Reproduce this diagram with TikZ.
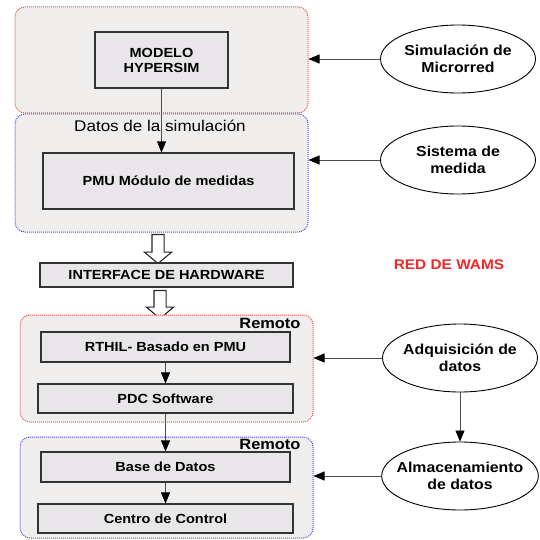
\documentclass[tikz,border=0pt]{standalone}
\usepackage{fontspec}
\setmainfont[FakeStretch=1.1]{Liberation Sans}
\usepackage{tikz}
\usetikzlibrary{shapes.geometric, shapes.arrows, arrows.meta, positioning}

\definecolor{panelgray}{RGB}{239,238,236}
\definecolor{boxgray}{RGB}{233,230,234}
\definecolor{wamsred}{RGB}{240,40,40}

\begin{document}
\begin{tikzpicture}[
    x=1pt, y=-1pt,
    panelred/.style={draw=red!70, densely dotted, line width=1pt, rounded corners=10pt, fill=panelgray, minimum width=293pt},
    panelblue/.style={draw=blue!70, densely dotted, line width=1pt, rounded corners=10pt, fill=panelgray, minimum width=293pt},
    block/.style={draw=black!80, line width=1.1pt, rectangle, fill=boxgray, font=\fontsize{13.2}{15}\selectfont\bfseries, align=center},
    role/.style={draw, line width=0.9pt, ellipse, fill=white, inner xsep=-8pt, minimum width=155pt, minimum height=68pt, font=\fontsize{14.4}{16.5}\selectfont\bfseries, align=center},
    hollow/.style={draw=black!85, line width=1.1pt, fill=white, single arrow, shape border rotate=270, inner sep=5.5pt, single arrow head extend=7.5pt, single arrow tip angle=100, minimum height=29pt},
    arrow/.style={draw=black!70, -{Triangle[length=11pt, width=9pt, color=black]}, line width=0.7pt}
]
\useasboundingbox (0,0) rectangle (539,540);

% Simulation panels
\node[panelred, minimum height=106pt] (simpanel) at (161.5, 60) {};
\node[panelblue, minimum height=118pt] (pmupanel) at (161.5, 173) {};
\node[block, minimum width=133pt, minimum height=56pt] (hypersim) at (161.5, 60) {MODELO\\HYPERSIM};
\node[font=\fontsize{15.5}{18}\selectfont] (datos) at (160, 126) {Datos de la simulación};
\node[block, minimum width=251pt, minimum height=56pt] (pmu) at (168.5, 181) {PMU Módulo de medidas};

% Hardware interface
\node[hollow] (down1) at (158, 246.5) {};
\node[block, minimum width=253pt, minimum height=24pt] (interface) at (166.5, 275) {INTERFACE DE HARDWARE};
\node[hollow, minimum height=28pt] (down2) at (160, 302) {};

% Remote panels
\node[panelred, minimum height=107pt] (acqpanel) at (166.5, 368.5) {};
\node[panelblue, minimum height=101pt] (storepanel) at (166.5, 487.5) {};
\node[anchor=east, font=\fontsize{14.9}{17}\selectfont\bfseries] (remoto1) at (304, 323) {Remoto};
\node[anchor=east, font=\fontsize{14.9}{17}\selectfont\bfseries] (remoto2) at (304, 444) {Remoto};
\node[block, minimum width=249pt, minimum height=30pt] (rthil) at (165.5, 347) {RTHIL- Basado en PMU};
\node[block, minimum width=255pt, minimum height=29pt] (pdc) at (165.5, 398.5) {PDC Software};
\node[block, minimum width=249pt, minimum height=30pt] (base) at (165.5, 467) {Base de Datos};
\node[block, minimum width=255pt, minimum height=29pt] (centro) at (165.5, 518.5) {Centro de Control};

% Functions of the network
\node[role] (simul) at (458, 59) {Simulación de\\Microrred};
\node[role] (medida) at (458, 160) {Sistema de\\medida};
\node[text=wamsred, font=\fontsize{14}{16}\selectfont\bfseries] (wams) at (449, 265) {RED DE WAMS};
\node[role] (adquis) at (460, 358) {Adquisición de\\datos};
\node[role] (almacen) at (460, 476) {Almacenamiento\\de datos};

% Data flow
\draw[arrow] (hypersim.south) -- (hypersim.south |- pmu.north);
\draw[arrow] (rthil) -- (pdc);
\draw[arrow] (pdc) -- (base);
\draw[arrow] (base) -- (centro);
\draw[arrow] (adquis) -- (almacen);

% Arrows from the functions
\draw[arrow] (simul.west) -- (simul.west -| simpanel.east);
\draw[arrow] (medida.west) -- (medida.west -| pmupanel.east);
\draw[arrow] (adquis.west) -- (adquis.west -| acqpanel.east);
\draw[arrow] (almacen.west) -- (almacen.west -| storepanel.east);

\end{tikzpicture}
\end{document}
